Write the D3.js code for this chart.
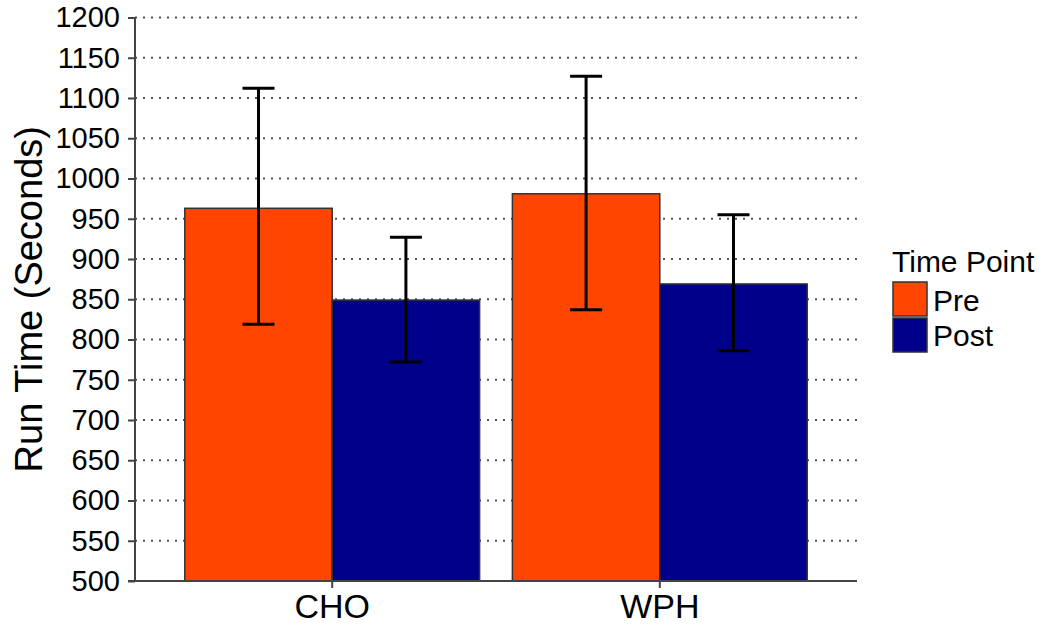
<!DOCTYPE html>
<html>
<head>
<meta charset="utf-8">
<script src="https://cdn.jsdelivr.net/npm/d3@7"></script>
<style>
  body { margin: 0; background: #fff; }
  text { font-family: "Liberation Sans", Arial, sans-serif; }
</style>
</head>
<body>
<div id="chart"></div>
<script>
var svgWidth = 1044;
var svgHeight = 627;

// data
var groups = ["CHO", "WPH"];
var timePoints = ["Pre", "Post"];
var means = { CHO: [963, 849], WPH: [981, 869] };
var upper = { CHO: [1112, 927], WPH: [1127, 955] };
var lower = { CHO: [819, 772], WPH: [837, 786] };
var yTicks = d3.range(500, 1201, 50);
var colors = ["#ff4500", "#00008b"];

var margin = { top: 17.5, right: 187, bottom: 46, left: 135 };
var width = svgWidth - margin.left - margin.right;
var height = svgHeight - margin.top - margin.bottom;

var svg = d3.select("#chart")
  .append("svg")
  .attr("width", svgWidth)
  .attr("height", svgHeight);

var chartGroup = svg.append("g")
  .attr("transform", `translate(${margin.left}, ${margin.top})`);

// scales
var x0 = d3.scaleBand()
  .domain(groups)
  .range([0, width])
  .paddingInner(0.1)
  .paddingOuter(0.152);

var x1 = d3.scaleBand()
  .domain(timePoints)
  .range([0, x0.bandwidth()]);

var y = d3.scaleLinear()
  .domain([500, 1200])
  .range([height, 0]);

// gridlines
chartGroup.selectAll(".grid")
  .data(yTicks.slice(1))
  .enter()
  .append("line")
  .attr("x1", 0)
  .attr("x2", width)
  .attr("y1", d => y(d))
  .attr("y2", d => y(d))
  .attr("stroke", "#555")
  .attr("stroke-width", 2)
  .attr("stroke-dasharray", "2,6");

// bars
var rows = [];
groups.forEach(function(g) {
  timePoints.forEach(function(t, i) {
    rows.push({ group: g, tp: t, i: i, mean: means[g][i], hi: upper[g][i], lo: lower[g][i] });
  });
});

chartGroup.selectAll(".bar")
  .data(rows)
  .enter()
  .append("rect")
  .attr("x", d => x0(d.group) + x1(d.tp))
  .attr("y", d => y(d.mean))
  .attr("width", x1.bandwidth())
  .attr("height", d => height - y(d.mean))
  .attr("fill", d => colors[d.i])
  .attr("stroke", "#333")
  .attr("stroke-width", 1.5);

// error bars
var capHalf = 16;
var cx = d => x0(d.group) + x1(d.tp) + x1.bandwidth() / 2;
var errGroup = chartGroup.selectAll(".err")
  .data(rows)
  .enter()
  .append("g")
  .attr("stroke", "#000")
  .attr("stroke-width", 3);

errGroup.append("line")
  .attr("x1", cx)
  .attr("x2", cx)
  .attr("y1", d => y(d.hi))
  .attr("y2", d => y(d.lo));

errGroup.append("line")
  .attr("x1", d => cx(d) - capHalf)
  .attr("x2", d => cx(d) + capHalf)
  .attr("y1", d => y(d.hi))
  .attr("y2", d => y(d.hi));

errGroup.append("line")
  .attr("x1", d => cx(d) - capHalf)
  .attr("x2", d => cx(d) + capHalf)
  .attr("y1", d => y(d.lo))
  .attr("y2", d => y(d.lo));

// axes
var leftAxis = d3.axisLeft(y).tickValues(yTicks).tickFormat(d3.format("d")).tickSize(7).tickPadding(8);
var bottomAxis = d3.axisBottom(x0).tickSize(7).tickPadding(6);

var gy = chartGroup.append("g").call(leftAxis);
var gx = chartGroup.append("g")
  .attr("transform", `translate(0, ${height})`)
  .call(bottomAxis);

[gy, gx].forEach(function(g) {
  g.selectAll("path, line").attr("stroke", "#444").attr("stroke-width", 2);
  g.select(".domain").attr("d", g === gy ? `M0,${height}V0` : `M-7,0H${width}`);
  g.attr("font-family", null).attr("font-size", null);
  g.selectAll("text").attr("fill", "#000");
});
gy.selectAll("text").attr("font-size", 29);
gx.selectAll("text").attr("font-size", 34);

// axis label
chartGroup.append("text")
  .attr("transform", "rotate(-90)")
  .attr("x", -height / 2)
  .attr("y", -margin.left + 42)
  .attr("text-anchor", "middle")
  .attr("font-size", 38)
  .text("Run Time (Seconds)");

// legend
var legend = svg.append("g")
  .attr("transform", "translate(892, 0)");

legend.append("text")
  .attr("x", 0)
  .attr("y", 272)
  .attr("font-size", 30)
  .text("Time Point");

legend.selectAll(".key")
  .data(timePoints)
  .enter()
  .append("rect")
  .attr("x", 1)
  .attr("y", (d, i) => 282 + i * 36)
  .attr("width", 34)
  .attr("height", 34)
  .attr("fill", (d, i) => colors[i])
  .attr("stroke", "#333")
  .attr("stroke-width", 1.5);

legend.selectAll(".lab")
  .data(timePoints)
  .enter()
  .append("text")
  .attr("x", 41)
  .attr("y", (d, i) => 311 + i * 35)
  .attr("font-size", 30)
  .text(d => d);
</script>
</body>
</html>
